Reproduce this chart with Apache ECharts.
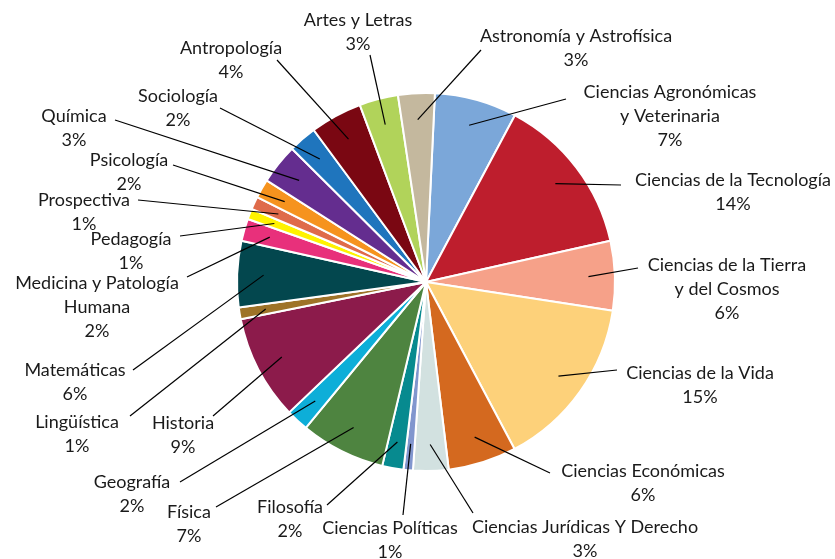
<!DOCTYPE html>
<html>
<head>
<meta charset="utf-8">
<script src="https://cdn.jsdelivr.net/npm/echarts@6/dist/echarts.min.js"></script>
<style>
  html, body { margin: 0; padding: 0; background: #fff; }
  #main { width: 835px; height: 559px; }
</style>
</head>
<body>
<div id="main"></div>
<script>
// areas, clockwise from 12 o'clock
var areas = [
  'Ciencias Agronómicas\ny Veterinaria', 'Ciencias de la Tecnología', 'Ciencias de la Tierra\ny del Cosmos',
  'Ciencias de la Vida', 'Ciencias Económicas', 'Ciencias Jurídicas Y Derecho', 'Ciencias Políticas',
  'Filosofía', 'Física', 'Geografía', 'Historia', 'Lingüística', 'Matemáticas',
  'Medicina y Patología\nHumana', 'Pedagogía', 'Prospectiva', 'Psicología', 'Química',
  'Sociología', 'Antropología', 'Artes y Letras', 'Astronomía y Astrofísica'
];
// share of each area
var shares = [7.0, 13.6, 5.9, 14.7, 5.8, 3.0, 0.8, 1.8, 7.2, 1.9, 8.9, 1.0, 5.6, 1.9, 0.9, 1.1, 1.6, 3.4, 2.4, 4.4, 3.3, 3.1];
// percentages as printed on the chart
var shareLabels = ['7%', '14%', '6%', '15%', '6%', '3%', '1%', '2%', '7%', '2%', '9%', '1%', '6%', '2%', '1%', '1%', '2%', '3%', '2%', '4%', '3%', '3%'];

var colors = [
  '#7ba7d9', '#be1e2d', '#f6a189', '#fdd17a', '#d4691f', '#d2e1e0', '#8196ce', '#078a8f',
  '#4e8440', '#0daed8', '#8c1b4b', '#9e7328', '#03474e', '#e8307b', '#fff200', '#df6b4b',
  '#f6931e', '#642d8f', '#1f75bd', '#7a0712', '#b1d35a', '#c4b89e'
];

// where each label block sits, and where its leader line meets it
var labelSpots = [
  [670, 116], [733, 192], [727, 289], [700, 385], [643, 483], [585, 539], [390, 540],
  [290, 519], [189, 524], [132, 494], [183, 435], [77, 434], [75, 382], [97, 307],
  [131, 251], [84, 212], [129, 172], [74, 128], [178, 108], [231, 60], [358, 32], [576, 48]
];
var lineEnds = [
  [566, 99], [621, 185], [638, 268], [617, 370], [550, 473], [473, 513], [403, 515],
  [327, 505], [216, 507], [180, 482], [213, 416], [130, 416], [133, 370], [187, 277],
  [180, 236], [138, 200], [173, 165], [115, 120], [220, 108], [277, 60], [370, 55], [481, 50]
];

var cx = 426, cy = 282, R = 189;

var pieBase = {
  type: 'pie',
  center: [cx, cy],
  startAngle: 87.3,
  clockwise: true,
  avoidLabelOverlap: false,
  minShowLabelAngle: 0,
  silent: true
};

var myChart = echarts.init(document.getElementById('main'));
myChart.setOption({
  animation: false,
  series: [
    // the slices
    Object.assign({}, pieBase, {
      z: 2,
      radius: R,
      itemStyle: { borderColor: '#fff', borderWidth: 2 },
      label: { show: false },
      labelLine: { show: false },
      data: areas.map(function (a, i) {
        return { name: a, value: shares[i], itemStyle: { color: colors[i] } };
      })
    }),
    // a smaller see-through copy on top: its leader lines start inside the slices
    Object.assign({}, pieBase, {
      z: 5,
      radius: R * 0.86,
      itemStyle: { color: 'rgba(0,0,0,0)', borderWidth: 0 },
      label: {
        show: true,
        position: 'outside',
        fontFamily: 'Lato',
        fontSize: 18,
        lineHeight: 24,
        color: '#1a1a1a',
        align: 'center',
        formatter: function (p) {
          return p.name + '\n' + shareLabels[p.dataIndex];
        }
      },
      labelLine: { show: true, lineStyle: { color: '#000', width: 1.2 } },
      labelLayout: function (p) {
        var i = p.dataIndex;
        var end = lineEnds[i];
        return {
          x: labelSpots[i][0],
          y: labelSpots[i][1],
          align: 'center',
          verticalAlign: 'middle',
          labelLinePoints: [p.labelLinePoints[0], end, end]
        };
      },
      data: areas.map(function (a, i) {
        return { name: a, value: shares[i] };
      })
    })
  ]
});
</script>
</body>
</html>
